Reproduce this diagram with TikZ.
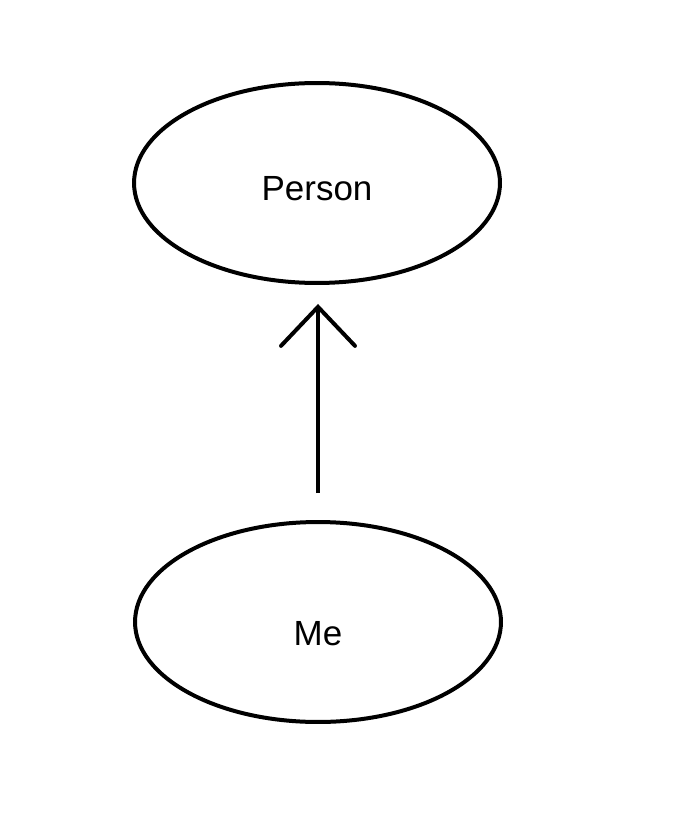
\documentclass[tikz,border=0pt]{standalone}
\usepackage{fontspec}
\setmainfont{Liberation Sans}
\usetikzlibrary{arrows.meta,positioning,shapes.geometric}
\definecolor{ink}{HTML}{000000}
\tikzset{
  classnode/.style={draw=ink,ellipse,line width=0.08cm,
                    minimum width=7.32cm,minimum height=4.0cm,
                    inner sep=0pt,font=\fontsize{19.9}{24}\selectfont},
  isarr/.style={-{Straight Barb[length=0.78cm,width=1.48cm,line cap=round]},
                line width=0.08cm,color=ink}
}

\begin{document}
\begin{tikzpicture}[x=0.02cm,y=-0.02cm]
  \useasboundingbox (0,0) rectangle (675,837);
  % the two classes
  \node[classnode,text height=0.71cm] (person) at (317,183) {Person};
  \node[classnode,text height=0.92cm,text depth=0pt] (me) at (318,622) {Me};
  % generalisation arrow
  \draw[isarr,shorten <=0.54cm,shorten >=0.38cm] (me.north) -- (me.north |- person.south);
\end{tikzpicture}
\end{document}
